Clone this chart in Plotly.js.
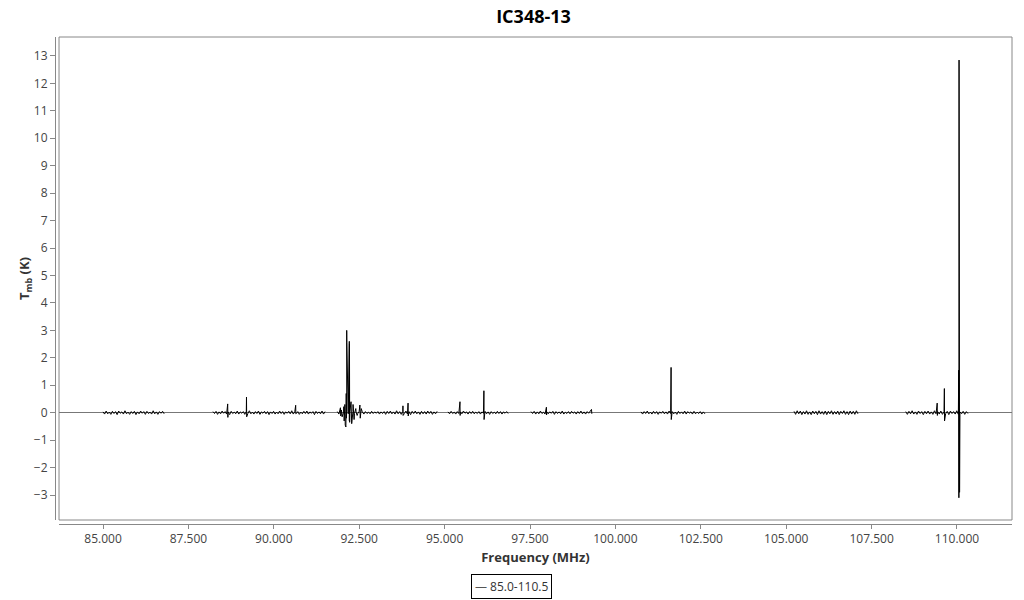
<!DOCTYPE html>
<html>
<head>
<meta charset="utf-8">
<script src="https://cdn.plot.ly/plotly-3.0.1.min.js"></script>
<style>html,body{margin:0;padding:0;background:#fff;}#chart{width:1024px;height:600px;}</style>
</head>
<body>
<div id="chart"></div>
<script>
// Spectral windows (GHz, labelled MHz in the original)
var segStart = [85.0, 88.22, 91.86, 95.1, 97.53, 100.75, 105.23, 108.5];
var segEnd   = [86.79, 91.5, 94.78, 96.86, 99.31, 102.62, 107.1, 110.32];
var seriesName = '85.0-110.5';

// Baseline noise read from each window (K)
var noise1 = [0.03,-0.05,0.06,-0.04,0.02,-0.06,0.05,-0.03,0.04,-0.07,0.06,-0.02,0.03,-0.05,0.07,-0.04,0.02,-0.06,0.04,-0.03,0.05,-0.07,0.03,-0.04,0.06,-0.02,0.04,-0.06,0.05,-0.03,0.02,-0.05,0.07,-0.04,0.03,-0.06,0.04,-0.02,0.05,-0.04];
var noise2 = [0.04,-0.03,0.05,-0.06,0.03,-0.04,0.06,-0.02,0.04,-0.05,0.03,-0.07,0.05,-0.03,0.02,-0.04,0.06,-0.05,0.03,-0.02,0.04,-0.06,0.05,-0.03,0.07,-0.04,0.02,-0.05,0.04,-0.03,0.06,-0.06,0.03,-0.02,0.05,-0.04,0.04,-0.07,0.03,-0.03,0.05,-0.05,0.02,-0.04,0.06,-0.03,0.04,-0.06,0.03,-0.02,0.05,-0.04,0.07,-0.05,0.03,-0.03,0.04,-0.06,0.02,-0.04,0.05,-0.03,0.06,-0.05,0.03,-0.02,0.04,-0.07,0.05,-0.03,0.03,-0.04,0.06,-0.05,0.04];
var noise3 = [0.04,-0.05,0.06,-0.03,0.03,-0.06,0.05,-0.04,0.02,-0.05,0.04,-0.03,0.03,-0.04,0.05,-0.02,0.03,-0.05,0.04,-0.03,0.02,-0.04,0.05,-0.03,0.03,-0.02,0.04,-0.05,0.03,-0.03,0.04,-0.06,0.05,-0.03,0.06,-0.04,0.03,-0.05,0.07,-0.04,0.04,-0.06,0.05,-0.03,0.06,-0.05,0.04,-0.07,0.05,-0.03,0.06,-0.04,0.03,-0.06,0.05,-0.04,0.04,-0.05,0.06,-0.03,0.05,-0.06,0.03,-0.04,0.05];
var noise4 = [0.03,-0.04,0.05,-0.03,0.02,-0.05,0.04,-0.03,0.03,-0.04,0.06,-0.02,0.03,-0.05,0.04,-0.03,0.05,-0.04,0.02,-0.03,0.04,-0.05,0.03,-0.02,0.05,-0.04,0.03,-0.06,0.04,-0.03,0.02,-0.04,0.05,-0.03,0.04,-0.05,0.03,-0.02,0.04,-0.03];
var noise5 = [0.04,-0.03,0.05,-0.05,0.03,-0.04,0.06,-0.03,0.02,-0.05,0.04,-0.04,0.03,-0.02,0.05,-0.06,0.04,-0.03,0.03,-0.04,0.06,-0.05,0.02,-0.03,0.04,-0.04,0.05,-0.02,0.03,-0.05,0.04,-0.03,0.06,-0.04,0.03,-0.05,0.04,-0.02,0.05,-0.04];
var noise6 = [0.03,-0.05,0.04,-0.03,0.06,-0.04,0.02,-0.05,0.05,-0.03,0.04,-0.06,0.03,-0.02,0.05,-0.04,0.03,-0.05,0.06,-0.03,0.04,-0.04,0.02,-0.06,0.05,-0.03,0.03,-0.04,0.06,-0.05,0.04,-0.02,0.03,-0.05,0.05,-0.04,0.02,-0.03,0.04,-0.05,0.03,-0.04];
var noise7 = [0.05,-0.06,0.07,-0.04,0.06,-0.07,0.04,-0.05,0.07,-0.06,0.03,-0.07,0.06,-0.04,0.05,-0.07,0.07,-0.05,0.04,-0.06,0.06,-0.07,0.05,-0.04,0.07,-0.06,0.04,-0.05,0.06,-0.07,0.05,-0.03,0.07,-0.06,0.04,-0.07,0.06,-0.05,0.05,-0.06,0.07,-0.04];
var noise8 = [0.04,-0.06,0.05,-0.04,0.07,-0.05,0.03,-0.06,0.06,-0.03,0.04,-0.07,0.05,-0.04,0.06,-0.05,0.03,-0.06,0.07,-0.04,0.04,-0.05,0.06,-0.06,0.03,-0.04,0.05,-0.07,0.06,-0.03,0.04,-0.05,0.07,-0.06,0.03,-0.04,0.05,-0.06,0.04,-0.03];

// Line features (frequency, T_mb)
var lineFreq = [88.65,88.655,89.2,89.205,90.64,90.645,
  91.95,91.96,91.98,92.0,92.05,92.06,92.08,92.09,92.1,92.11,92.12,92.125,92.134,92.137,92.21,92.212,92.215,92.22,92.26,92.28,92.32,92.35,92.4,92.44,92.52,92.53,92.56,
  93.78,93.785,93.93,93.935,
  95.45,95.455,96.15,96.155,
  97.98,97.985,99.3,
  101.63,101.635,
  109.42,109.425,109.63,109.635,110.05,110.055,110.06,110.065,110.07,110.075];
var lineT = [0.32,-0.17,0.57,-0.15,0.27,-0.04,
  0.18,-0.12,0.1,-0.15,0.22,-0.3,0.3,-0.45,0.35,-0.52,0.7,-0.2,3.0,2.55,2.6,-0.3,2.5,-0.35,0.4,-0.4,0.3,-0.25,0.15,-0.1,0.28,-0.2,0.15,
  0.25,-0.1,0.35,-0.12,
  0.4,-0.1,0.8,-0.25,
  0.2,-0.08,0.12,
  1.65,-0.25,
  0.35,-0.1,0.88,-0.3,1.55,-3.1,12.85,-3.05,1.2,-2.9];

var noiseSets = [noise1,noise2,noise3,noise4,noise5,noise6,noise7,noise8];
var xs = [], ys = [];
for (var s = 0; s < segStart.length; s++) {
  var pts = [];
  var nz = noiseSets[s];
  for (var i = 0; i < nz.length; i++) {
    pts.push([segStart[s] + i * (segEnd[s] - segStart[s]) / (nz.length - 1), nz[i]]);
  }
  for (var j = 0; j < lineFreq.length; j++) {
    if (lineFreq[j] >= segStart[s] && lineFreq[j] <= segEnd[s]) pts.push([lineFreq[j], lineT[j]]);
  }
  pts.sort(function(a, b){ return a[0] - b[0]; });
  pts.forEach(function(p){ xs.push(p[0]); ys.push(p[1]); });
  xs.push(null); ys.push(null);
}

var trace = {
  x: xs, y: ys, type: 'scatter', mode: 'lines', name: seriesName, showlegend: false,
  line: {color: '#000', width: 1}, connectgaps: false
};

var gray = '#888';
var layout = {
  width: 1024, height: 600,
  margin: {l: 55, r: 12, t: 37, b: 76, autoexpand: false},
  paper_bgcolor: '#fff', plot_bgcolor: '#fff',
  font: {family: 'Open Sans, sans-serif', color: '#444', size: 12},
  title: {text: '<b>IC348-13</b>', x: 0.5, xref: 'paper', xanchor: 'center', y: 0.973, yanchor: 'middle',
          font: {family: 'Open Sans, sans-serif', size: 18, color: '#000'}},
  xaxis: {
    domain: [0.0042, 1], anchor: 'free', position: 0, automargin: true,
    range: [83.712, 111.61], tick0: 85, dtick: 2.5, tickformat: '.3f',
    showgrid: false, zeroline: false, showline: true, linecolor: gray, linewidth: 1,
    ticks: 'outside', ticklen: 4, tickcolor: gray, tickfont: {size: 12, color: '#444'},
    title: {text: '<b>Frequency (MHz)</b>', font: {size: 13, color: '#333'}, standoff: 6}
  },
  yaxis: {
    domain: [0.0082, 1], anchor: 'free', position: 0, automargin: true,
    range: [-3.91, 13.69], tick0: 0, dtick: 1,
    showgrid: false, zeroline: true, zerolinecolor: '#777', zerolinewidth: 1,
    showline: true, linecolor: gray, linewidth: 1,
    ticks: 'outside', ticklen: 5, tickcolor: gray, tickfont: {size: 12, color: '#444'},
    title: {text: '<b>T<sub>mb</sub> (K)</b>', font: {size: 13, color: '#333'}, standoff: 0}
  },
  showlegend: false,
  annotations: [{
    xref: 'paper', yref: 'paper', x: 0.477, y: -0.128, xanchor: 'center', yanchor: 'middle',
    text: '<span style="color:#555">—</span> ' + seriesName, showarrow: false,
    font: {size: 12, color: '#333'}, bordercolor: '#000', borderwidth: 1, borderpad: 3, bgcolor: '#fff'
  }],
  shapes: [{type: 'rect', xref: 'x domain', yref: 'y domain', x0: 0, x1: 1, y0: 0, y1: 1,
            line: {color: gray, width: 1}, fillcolor: 'rgba(0,0,0,0)', layer: 'below'}]
};

Plotly.newPlot('chart', [trace], layout, {displayModeBar: false, staticPlot: true});
</script>
</body>
</html>
